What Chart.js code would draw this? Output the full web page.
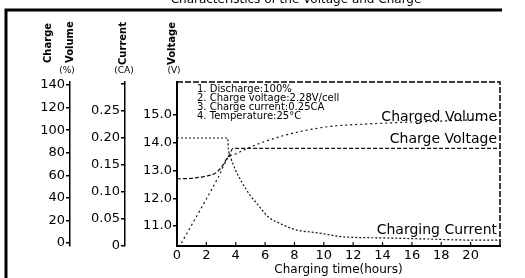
<!DOCTYPE html>
<html>
<head>
<meta charset="utf-8">
<script src="https://cdn.jsdelivr.net/npm/chart.js@4.4.1/dist/chart.umd.min.js"></script>
<style>
  html, body { margin: 0; padding: 0; background: #fff; }
  #wrap { width: 525px; height: 278px; }
</style>
</head>
<body>
<div id="wrap"><canvas id="chart" width="525" height="278"></canvas></div>
<script>
// charging time (hours) / values
const hourTicks = [0, 2, 4, 6, 8, 10, 12, 14, 16, 18, 20];

const voltHours = [0, 1, 2, 2.6, 3.0, 3.3, 3.6, 3.8, 22];
const voltValues = [12.7, 12.72, 12.8, 12.9, 13.1, 13.35, 13.6, 13.8, 13.8];

const curHours = [0, 3.45, 3.5, 3.7, 4.0, 4.4, 5.0, 5.4, 6.0, 6.3, 7, 8.1, 9.7, 11.3, 14, 17, 20, 22];
const curValues = [0.2, 0.2, 0.18, 0.16, 0.14, 0.119, 0.093, 0.08, 0.06, 0.052, 0.042, 0.030, 0.024, 0.017, 0.015, 0.013, 0.011, 0.011];

const volHours = [0.3, 1, 2, 2.8, 3.5, 4, 5, 6, 7.5, 9.7, 11, 13, 15.6, 18, 20, 22];
const volValues = [0, 16, 39, 58, 76, 79, 85, 90, 96, 102, 104, 105.5, 107, 108, 109, 109.5];

const volTicks = [0, 20, 40, 60, 80, 100, 120, 140];
const curTicks = [0, 0.05, 0.10, 0.15, 0.20, 0.25, 0.30];
const curTickLabels = ['0', '0.05', '0.10', '0.15', '0.20', '0.25', ''];
const voltTicks = [11, 12, 13, 14, 15];

const notes = ['1. Discharge:100%', '2. Charge voltage:2.28V/cell', '3. Charge current:0.25CA', '4. Temperature:25\u00B0C'];

const FONT = 'DejaVu Sans';
const tickFont = { family: FONT, size: 13 };

const pts = (xs, ys) => xs.map((x, i) => ({ x: x, y: ys[i] }));

const decor = {
    id: 'decor',
    afterDraw(chart) {
        const ctx = chart.ctx;
        const a = chart.chartArea;
        ctx.save();
        ctx.fillStyle = '#000';
        ctx.strokeStyle = '#000';

        // cut-off title
        ctx.font = '12px ' + FONT;
        ctx.textAlign = 'center';
        ctx.textBaseline = 'alphabetic';
        ctx.fillText('Characteristics of the Voltage and Charge', 296, 3);

        // outer frame
        ctx.lineWidth = 3;
        ctx.beginPath();
        ctx.moveTo(6, 278);
        ctx.lineTo(6, 10);
        ctx.lineTo(502, 10);
        ctx.stroke();

        // plot box top and right
        ctx.lineWidth = 1.5;
        ctx.setLineDash([6, 2]);
        ctx.beginPath();
        ctx.moveTo(a.left, a.top);
        ctx.lineTo(a.right, a.top);
        ctx.lineTo(a.right, a.bottom);
        ctx.stroke();
        ctx.setLineDash([]);

        // inner ticks on the time axis
        const xs = chart.scales.x;
        ctx.lineWidth = 1.2;
        hourTicks.forEach(h => {
            const px = xs.getPixelForValue(h);
            ctx.beginPath();
            ctx.moveTo(px, a.bottom);
            ctx.lineTo(px, a.bottom - 4);
            ctx.stroke();
        });

        // rotated axis titles
        const vtext = (txt, x, y) => {
            ctx.save();
            ctx.translate(x, y);
            ctx.rotate(-Math.PI / 2);
            ctx.textAlign = 'left';
            ctx.textBaseline = 'middle';
            ctx.fillText(txt, 0, 0);
            ctx.restore();
        };
        ctx.font = 'bold 10px ' + FONT;
        vtext('Charge', 48, 63);
        vtext('Volume', 70, 63);
        vtext('Current', 123, 65);
        vtext('Voltage', 172, 65);
        ctx.font = '9px ' + FONT;
        ctx.textAlign = 'center';
        ctx.textBaseline = 'middle';
        ctx.fillText('(%)', 67, 71);
        ctx.fillText('(CA)', 124, 71);
        ctx.fillText('(V)', 174, 71);

        // test conditions
        ctx.font = '10px ' + FONT;
        ctx.textAlign = 'left';
        notes.forEach((t, i) => ctx.fillText(t, 197, 89 + i * 9.3));

        // curve names
        ctx.font = '14px ' + FONT;
        ctx.textAlign = 'right';
        ctx.fillText('Charged Volume', 497, 117);
        ctx.fillText('Charge Voltage', 497, 139);
        ctx.fillText('Charging Current', 497, 230);
        ctx.restore();
    }
};

new Chart(document.getElementById('chart'), {
    type: 'line',
    data: {
        datasets: [
            {
                label: 'Charge Voltage',
                data: pts(voltHours, voltValues),
                yAxisID: 'yV',
                borderColor: '#111',
                borderWidth: 1.2,
                borderDash: [4, 2],
                pointRadius: 0,
                cubicInterpolationMode: 'monotone'
            },
            {
                label: 'Charging Current',
                data: pts(curHours, curValues),
                yAxisID: 'yCur',
                borderColor: '#111',
                borderWidth: 1.2,
                borderDash: [2, 2],
                pointRadius: 0,
                cubicInterpolationMode: 'monotone'
            },
            {
                label: 'Charged Volume',
                data: pts(volHours, volValues),
                yAxisID: 'yVol',
                borderColor: '#111',
                borderWidth: 1.2,
                borderDash: [2, 3],
                pointRadius: 0,
                cubicInterpolationMode: 'monotone'
            }
        ]
    },
    options: {
        responsive: false,
        animation: false,
        layout: { padding: { top: 82, right: 25, bottom: 0, left: 0 } },
        plugins: {
            legend: { display: false },
            tooltip: { enabled: false }
        },
        scales: {
            x: {
                type: 'linear',
                min: 0,
                max: 22,
                afterBuildTicks: s => { s.ticks = hourTicks.map(v => ({ value: v })); },
                ticks: { font: tickFont, color: '#000', padding: 2, maxRotation: 0, autoSkip: false },
                grid: { display: true, drawOnChartArea: false, tickLength: 0 },
                border: { color: '#000', width: 2 },
                title: {
                    display: true,
                    text: 'Charging time(hours)',
                    color: '#000',
                    font: { family: FONT, size: 12 },
                    padding: { top: 0, bottom: 1 }
                },
                afterFit: s => { s.height = 32; }
            },
            yVol: {
                position: 'left',
                weight: 3,
                min: -2.66,
                max: 142.66,
                afterBuildTicks: s => { s.ticks = volTicks.map(v => ({ value: v })); },
                ticks: { font: tickFont, color: '#000', padding: 1 },
                grid: { display: true, drawOnChartArea: false, tickLength: 4, color: '#000', lineWidth: 1.5 },
                border: { color: '#000', width: 1.5 },
                afterFit: s => { s.width = 70; }
            },
            yCur: {
                position: 'left',
                weight: 2,
                min: 0,
                max: 0.3037,
                afterBuildTicks: s => { s.ticks = curTicks.map(v => ({ value: v })); },
                ticks: { font: tickFont, color: '#000', padding: 1, callback: (v, i) => curTickLabels[i] },
                grid: { display: true, drawOnChartArea: false, tickLength: 4, color: '#000', lineWidth: 1.5 },
                border: { color: '#000', width: 1.5 },
                afterFit: s => { s.width = 55; }
            },
            yV: {
                position: 'left',
                weight: 1,
                min: 10.28,
                max: 16.19,
                afterBuildTicks: s => { s.ticks = voltTicks.map(v => ({ value: v })); },
                ticks: { font: tickFont, color: '#000', padding: 1, callback: v => v.toFixed(1) },
                grid: { display: true, drawOnChartArea: false, tickLength: 4, color: '#000', lineWidth: 1.5 },
                border: { color: '#000', width: 2 },
                afterFit: s => { s.width = 52; }
            }
        }
    },
    plugins: [decor]
});
</script>
</body>
</html>
